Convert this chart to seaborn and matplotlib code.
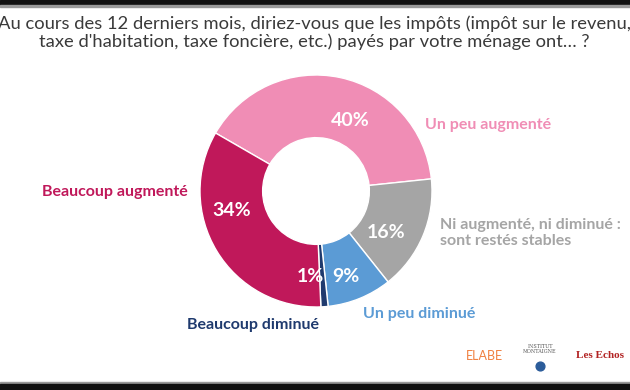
import matplotlib
matplotlib.use("Agg")
import matplotlib.pyplot as plt
import seaborn as sns

# Réponses (ordre horaire à partir du haut gauche)
categories = ["Un peu augmenté", "Ni augmenté, ni diminué :\nsont restés stables",
              "Un peu diminué", "Beaucoup diminué", "Beaucoup augmenté"]
values = [40, 16, 9, 1, 34]
pct_labels = ["40%", "16%", "9%", "1%", "34%"]
colors = ["#F08DB5", "#A5A5A5", "#5B9BD5", "#1F3A6E", "#C0185A"]

title = ("Au cours des 12 derniers mois, diriez-vous que les impôts (impôt sur le revenu,\n"
         "taxe d'habitation, taxe foncière, etc.) payés par votre ménage ont… ?")

sns.set_theme(style="white")
plt.rcParams["font.family"] = ["Lato", "DejaVu Sans"]

W, H = 630, 390
fig = plt.figure(figsize=(W / 100, H / 100), dpi=100)
fig.patch.set_facecolor("white")

def px(x, y):
    return x / W, 1 - y / H

# bandeaux noirs haut / bas
bg = fig.add_axes([0, 0, 1, 1])
bg.set_xlim(0, W)
bg.set_ylim(H, 0)
bg.axis("off")
bg.axhspan(0, 5, color="#111111")
bg.axhspan(5, 7, color="#9a9a9a")
bg.axhspan(382, 384, color="#9a9a9a")
bg.axhspan(384, 390, color="#111111")

# donut
cx, cy, r = 316, 191, 116
ax = fig.add_axes([(cx - r) / W, (H - cy - r) / H, 2 * r / W, 2 * r / H])
ax.pie(values, colors=colors, startangle=150, counterclock=False,
       wedgeprops=dict(width=0.54, edgecolor="white", linewidth=1))
ax.set_xlim(-1, 1)
ax.set_ylim(-1, 1)
ax.axis("off")

# pourcentages
pct_pos = [(350, 120), (386, 232), (346, 276), (310, 277), (232, 211)]
for (x, y), t in zip(pct_pos, pct_labels):
    fig.text(*px(x, y), t, color="white", fontsize=14, fontweight="bold",
             ha="center", va="center")

# libellés
lab_pos = [(425, 125, "left"), (440, 233, "left"), (363, 314, "left"),
           (319, 325, "right"), (188, 192, "right")]
for (x, y, ha), t, c in zip(lab_pos, categories, colors):
    fig.text(*px(x, y), t, color=c, fontsize=11.5, fontweight="bold",
             ha=ha, va="center", linespacing=1.2)

fig.text(*px(314, 33), title, color="#3a3a3a", fontsize=13.2,
         ha="center", va="center", linespacing=1.1)

# logos
fig.text(*px(484, 356), "ELABE", color="#F08040", fontsize=9, ha="center", va="center")
fig.text(*px(540, 349), "INSTITUT\nMONTAIGNE", color="#555555", fontsize=3.5,
         ha="center", va="center", family="DejaVu Serif")
bg.scatter([540], [366], s=40, color="#2B5C9A")
fig.text(*px(600, 356), "Les Echos", color="#B22222", fontsize=8,
         ha="center", va="center", family="Liberation Serif", fontweight="bold")

fig.savefig("out.png", dpi=100)
